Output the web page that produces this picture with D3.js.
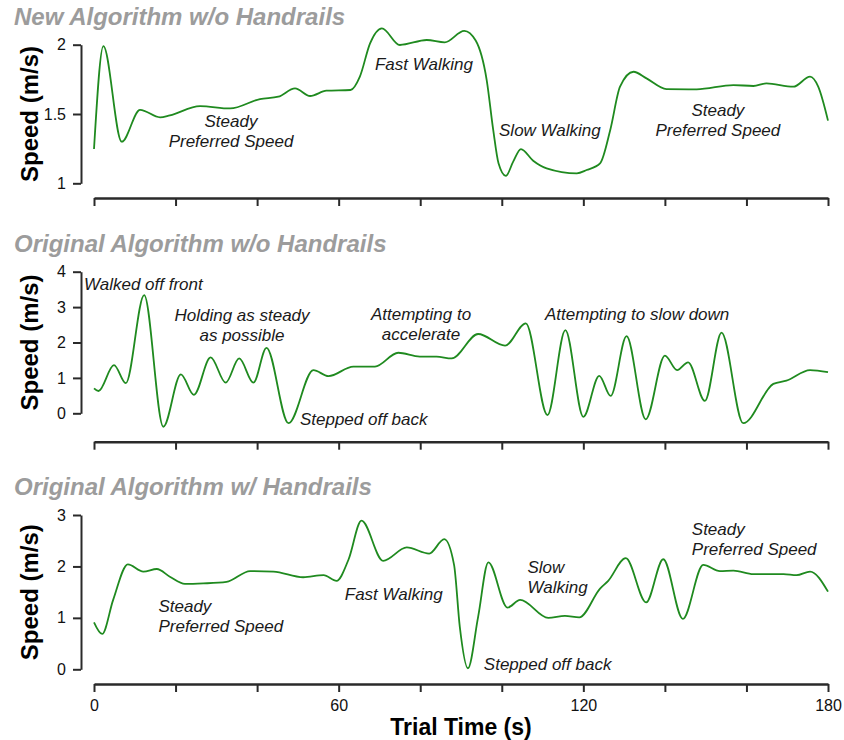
<!DOCTYPE html>
<html>
<head>
<meta charset="utf-8">
<script src="https://cdn.jsdelivr.net/npm/d3@7"></script>
<style>
  html, body { margin: 0; padding: 0; background: #fff; }
  svg { display: block; font-family: "Liberation Sans", Arial, sans-serif; }
</style>
</head>
<body>
<svg id="chart" width="844" height="740"></svg>
<script>
// ---------------- DATA ----------------
const panelTitles = ["New Algorithm w/o Handrails", "Original Algorithm w/o Handrails", "Original Algorithm w/ Handrails"];
const yTicks1 = [1, 1.5, 2];
const yTicks2 = [0, 1, 2, 3, 4];
const yTicks3 = [0, 1, 2, 3];
const xTicks = [0, 20, 40, 60, 80, 100, 120, 140, 160, 180];
const xTickLabels = [0, 60, 120, 180];

const time1 = [0, 2.3, 6.8, 11.3, 16.2, 18.6, 26, 33.4, 40.7, 45.2, 49.3, 53, 57, 62.9, 65.2, 67.7, 70.6, 75, 81.6, 86, 90.8, 93.6, 96.3, 97.9, 99.2, 101, 102.8, 104.7, 107.7, 111, 118.4, 120.8, 124.1, 126.6, 129, 132.3, 135.5, 140.4, 147.8, 156.8, 161.7, 164.9, 171.5, 175.6, 177.6, 180];
const speed1 = [1.247, 1.99, 1.30, 1.53, 1.476, 1.49, 1.557, 1.54, 1.608, 1.625, 1.685, 1.63, 1.668, 1.673, 1.77, 2.01, 2.118, 1.998, 2.034, 2.017, 2.10, 2.03, 1.745, 1.385, 1.144, 1.053, 1.156, 1.247, 1.163, 1.108, 1.072, 1.096, 1.144, 1.385, 1.697, 1.805, 1.757, 1.68, 1.678, 1.709, 1.702, 1.721, 1.697, 1.769, 1.697, 1.452];

const time2 = [0, 1.1, 4.9, 7.8, 12.3, 17, 21.3, 24.5, 28.6, 32.3, 35.6, 39.1, 42.3, 47.7, 53.8, 57.5, 63.6, 68.9, 74.6, 79.9, 84, 87.7, 94.2, 100.8, 105.9, 111.2, 115.6, 120, 123.9, 126.7, 130.6, 135.3, 140, 143, 145.7, 149.8, 153.9, 159.2, 166.6, 169.8, 175.6, 180];
const speed2 = [0.706, 0.63, 1.36, 0.85, 3.34, -0.38, 1.10, 0.52, 1.58, 0.865, 1.55, 0.865, 1.85, -0.28, 1.22, 1.05, 1.32, 1.32, 1.71, 1.60, 1.60, 1.55, 2.24, 1.91, 2.54, -0.05, 2.35, -0.10, 1.06, 0.49, 2.18, -0.17, 1.63, 1.22, 1.44, 0.35, 2.28, -0.28, 0.83, 0.92, 1.22, 1.16];

const time3 = [0, 2, 4.7, 8.3, 12.1, 15.4, 18.6, 22.3, 26.8, 32.5, 38.3, 44, 51.3, 56.3, 59.5, 62.4, 65.6, 70.9, 76.7, 82.2, 85.9, 88.3, 89.7, 91.7, 94.2, 96.7, 101.4, 104.5, 111.4, 115.5, 119, 124.1, 126.1, 130.4, 135.4, 139.6, 144.4, 149.4, 153.5, 156.8, 161.7, 169.1, 172.3, 175.6, 180];
const speed3 = [0.914, 0.687, 1.35, 2.04, 1.90, 1.95, 1.80, 1.66, 1.67, 1.70, 1.91, 1.90, 1.79, 1.83, 1.72, 2.13, 2.89, 2.11, 2.37, 2.25, 2.53, 2.03, 0.83, 0.02, 1.02, 2.08, 1.20, 1.35, 1.00, 1.04, 1.01, 1.57, 1.72, 2.16, 1.30, 2.14, 0.98, 2.03, 1.91, 1.92, 1.85, 1.85, 1.83, 1.90, 1.51];

// annotations: [lines, time, speed, anchor]
const notes1 = [
  [["Steady", "Preferred Speed"], 33.6, 1.408, "middle"],
  [["Fast Walking"], 80.9, 1.817, "middle"],
  [["Slow Walking"], 111.8, 1.341, "middle"],
  [["Steady", "Preferred Speed"], 153, 1.486, "middle"]
];
const notes2 = [
  [["Walked off front"], -2.45, 3.48, "start"],
  [["Holding as steady", "as possible"], 36.3, 2.62, "middle"],
  [["Stepped off back"], 50.5, -0.33, "start"],
  [["Attempting to", "accelerate"], 80.2, 2.64, "middle"],
  [["Attempting to slow down"], 133.2, 2.64, "middle"]
];
const notes3 = [
  [["Steady", "Preferred Speed"], 15.8, 1.12, "start"],
  [["Fast Walking"], 61.5, 1.35, "start"],
  [["Stepped off back"], 95.6, -0.01, "start"],
  [["Slow", "Walking"], 106.3, 1.87, "start"],
  [["Steady", "Preferred Speed"], 146.6, 2.61, "start"]
];

// ---------------- LAYOUT ----------------
const svg = d3.select("#chart");
const x = d3.scaleLinear().domain([0, 180]).range([94, 828]);
const axisColor = "#2a2a2a";
const lineColor = "#1f8a1f";

const panels = [
  { title: panelTitles[0], t: time1, v: speed1, ticks: yTicks1, domain: [1, 2], range: [183.3, 44.7], xAxisY: 198, notes: notes1, fmt: d3.format("") },
  { title: panelTitles[1], t: time2, v: speed2, ticks: yTicks2, domain: [0, 4], range: [413.3, 271.7], xAxisY: 441.7, notes: notes2, fmt: d3.format("d") },
  { title: panelTitles[2], t: time3, v: speed3, ticks: yTicks3, domain: [0, 3], range: [669.3, 515], xAxisY: 684, notes: notes3, fmt: d3.format("d") }
];

panels.forEach((p, i) => {
  const y = d3.scaleLinear().domain(p.domain).range(p.range);
  const g = svg.append("g");

  // title
  g.append("text")
    .attr("x", 14).attr("y", p.range[1] - 20)
    .attr("font-size", 24).attr("font-weight", "bold").attr("font-style", "italic")
    .attr("fill", "#9c9c9c")
    .text(p.title);

  // y label
  const ymid = (p.range[0] + p.range[1]) / 2;
  g.append("text")
    .attr("transform", `translate(38,${ymid}) rotate(-90)`)
    .attr("text-anchor", "middle")
    .attr("font-size", 24).attr("font-weight", "bold")
    .attr("fill", "#000")
    .text("Speed (m/s)");

  // y axis
  const yAxis = d3.axisLeft(y).tickValues(p.ticks).tickSizeInner(8).tickSizeOuter(0).tickPadding(7)
    .tickFormat(d => String(d));
  const ya = g.append("g").attr("transform", "translate(81,0)").call(yAxis);
  ya.select(".domain").attr("stroke", axisColor).attr("stroke-width", 2);
  ya.selectAll(".tick line").attr("stroke", axisColor).attr("stroke-width", 2);
  ya.selectAll(".tick text").attr("font-size", 16).attr("fill", "#111")
    .attr("font-family", "'Liberation Sans', Arial, sans-serif");

  // x axis
  const xAxis = d3.axisBottom(x).tickValues(xTicks).tickSizeInner(8).tickSizeOuter(0).tickPadding(8)
    .tickFormat(d => (i === 2 && xTickLabels.includes(d)) ? String(d) : "");
  const xa = g.append("g").attr("transform", `translate(0,${p.xAxisY})`).call(xAxis);
  xa.select(".domain").attr("stroke", axisColor).attr("stroke-width", 2.5);
  xa.selectAll(".tick line").attr("stroke", axisColor).attr("stroke-width", 2);
  xa.selectAll(".tick text").attr("font-size", 16).attr("fill", "#111")
    .attr("font-family", "'Liberation Sans', Arial, sans-serif");

  // line
  const pts = p.t.map((tt, k) => [tt, p.v[k]]);
  const line = d3.line().x(d => x(d[0])).y(d => y(d[1])).curve(d3.curveMonotoneX);
  g.append("path").datum(pts)
    .attr("d", line)
    .attr("fill", "none")
    .attr("stroke", lineColor)
    .attr("stroke-width", 1.8)
    .attr("stroke-linejoin", "round");

  // annotations
  p.notes.forEach(n => {
    const txt = g.append("text")
      .attr("x", x(n[1])).attr("y", y(n[2]))
      .attr("text-anchor", n[3])
      .attr("font-size", 17).attr("font-style", "italic")
      .attr("fill", "#1a1a1a");
    n[0].forEach((s, k) => {
      txt.append("tspan").attr("x", x(n[1])).attr("dy", k === 0 ? 0 : 20).text(s);
    });
  });
});

// x axis title
svg.append("text")
  .attr("x", x(90)).attr("y", 735)
  .attr("text-anchor", "middle")
  .attr("font-size", 23).attr("font-weight", "bold")
  .attr("fill", "#000")
  .text("Trial Time (s)");
</script>
</body>
</html>
